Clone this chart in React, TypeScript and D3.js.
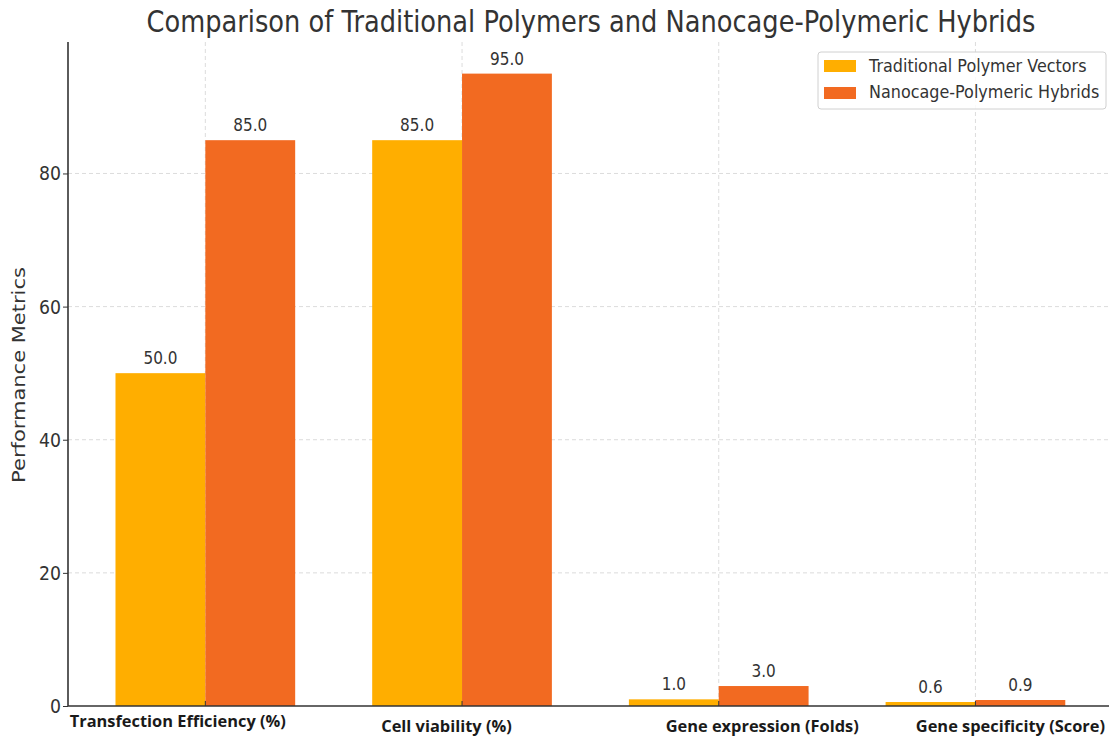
import React, { useEffect, useRef } from 'react'
import * as d3 from 'd3'

const categories = [
  'Transfection Efficiency (%)',
  'Cell viability (%)',
  'Gene expression (Folds)',
  'Gene specificity (Score)',
]
const seriesNames = ['Traditional Polymer Vectors', 'Nanocage-Polymeric Hybrids']
const traditional = [50, 85, 1, 0.6]
const nanocage = [85, 95, 3, 0.9]
const yTicks = [0, 20, 40, 60, 80]

const colors = ['#FFAE00', '#F26A21']
// the category labels sit a little off their ticks in the original
const labelShift = [-27.5, -15.5, 43.5, 35]
const labelBase = [727, 732, 732, 732]

// the original picture is stretched a bit vertically
const SY = 1.15

const App = () => {
  const ref = useRef<SVGSVGElement>(null)

  useEffect(() => {
    draw()
  })

  const draw = () => {
    const W = 1109
    const left = 68
    const top = 42
    const bottom = 706
    const barW = 0.35

    const svg = d3.select(ref.current)
    svg.selectAll('*').remove()

    const x = d3.scaleLinear().domain([-0.535, 3.535]).range([left, left + 4.07 * 256.7])
    const y = d3.scaleLinear().domain([0, 99.75]).range([bottom, top])

    const font = 'DejaVu Sans, sans-serif'
    const textColor = '#333'

    const label = (g: any, tx: number, ty: number, size: number, txt: string, anchor = 'middle') =>
      g
        .append('text')
        .attr('transform', `translate(${tx},${ty}) scale(1,${SY})`)
        .attr('text-anchor', anchor)
        .attr('font-family', font)
        .attr('font-size', size)
        .attr('fill', textColor)
        .text(txt)

    // grid
    const grid = svg.append('g')
    grid
      .selectAll('line.h')
      .data(yTicks.slice(1))
      .enter()
      .append('line')
      .attr('x1', left)
      .attr('x2', W)
      .attr('y1', (d) => y(d))
      .attr('y2', (d) => y(d))
      .attr('stroke', '#dcdcdc')
      .attr('stroke-dasharray', '4,3')
    grid
      .selectAll('line.v')
      .data(categories)
      .enter()
      .append('line')
      .attr('x1', (_, i) => x(i))
      .attr('x2', (_, i) => x(i))
      .attr('y1', top)
      .attr('y2', bottom)
      .attr('stroke', '#dcdcdc')
      .attr('stroke-dasharray', '4,3')

    // bars
    const series = [traditional, nanocage]
    series.forEach((vals, s) => {
      const off = s === 0 ? -barW / 2 : barW / 2
      const g = svg.append('g')
      g.selectAll('rect')
        .data(vals)
        .enter()
        .append('rect')
        .attr('x', (_, i) => x(i + off - barW / 2))
        .attr('width', x(barW) - x(0))
        .attr('y', (d) => y(d))
        .attr('height', (d) => y(0) - y(d))
        .attr('fill', colors[s])
      vals.forEach((v, i) => label(g, x(i + off), y(v) - 9, 15.3, v.toFixed(1)))
    })

    // y axis
    const yAxis = svg
      .append('g')
      .attr('transform', `translate(${left},0)`)
      .call(d3.axisLeft(y).tickValues(yTicks).tickSize(5).tickFormat(() => ''))
    yAxis.select('.domain').attr('stroke', textColor).attr('stroke-width', 1.6).attr('d', `M0,${top}V${bottom}`)
    yAxis.selectAll('.tick line').attr('stroke', textColor)
    yTicks.forEach((t) => label(svg, 61, y(t) + 7, 17.3, String(t), 'end'))

    // x axis
    svg
      .append('line')
      .attr('x1', left)
      .attr('x2', W)
      .attr('y1', bottom)
      .attr('y2', bottom)
      .attr('stroke', textColor)
      .attr('stroke-width', 1.6)
    svg
      .append('g')
      .selectAll('line')
      .data(categories)
      .enter()
      .append('line')
      .attr('x1', (_, i) => x(i))
      .attr('x2', (_, i) => x(i))
      .attr('y1', bottom)
      .attr('y2', bottom - 5)
      .attr('stroke', textColor)

    svg
      .append('g')
      .selectAll('text')
      .data(categories)
      .enter()
      .append('text')
      .attr('x', (_, i) => x(i) + labelShift[i])
      .attr('y', (_, i) => labelBase[i])
      .attr('text-anchor', 'middle')
      .attr('font-family', 'Open Sans, sans-serif')
      .attr('font-weight', 'bold')
      .attr('font-size', 16.4)
      .attr('fill', '#1a1a1a')
      .text((d) => d)

    svg
      .append('text')
      .attr('transform', `translate(25,375) rotate(-90) scale(1.2,1)`)
      .attr('text-anchor', 'middle')
      .attr('font-family', font)
      .attr('font-size', 17.5)
      .attr('fill', textColor)
      .text('Performance Metrics')

    label(svg, 591, 32, 25.7, 'Comparison of Traditional Polymers and Nanocage-Polymeric Hybrids')

    // legend
    const lg = svg.append('g').attr('transform', 'translate(818,52)')
    lg.append('rect')
      .attr('width', 288)
      .attr('height', 57)
      .attr('rx', 3)
      .attr('fill', 'white')
      .attr('fill-opacity', 0.85)
      .attr('stroke', '#d0d0d0')
    seriesNames.forEach((name, i) => {
      lg.append('rect')
        .attr('x', 6)
        .attr('y', 8 + i * 27)
        .attr('width', 32)
        .attr('height', 12)
        .attr('fill', colors[i])
      label(lg, 51, 20 + i * 26, 16, name, 'start')
    })
  }

  return (
    <svg
      ref={ref}
      width={1109}
      height={737}
      style={{ position: 'absolute', left: 0, top: 0, background: 'white' }}
    />
  )
}

export default App
